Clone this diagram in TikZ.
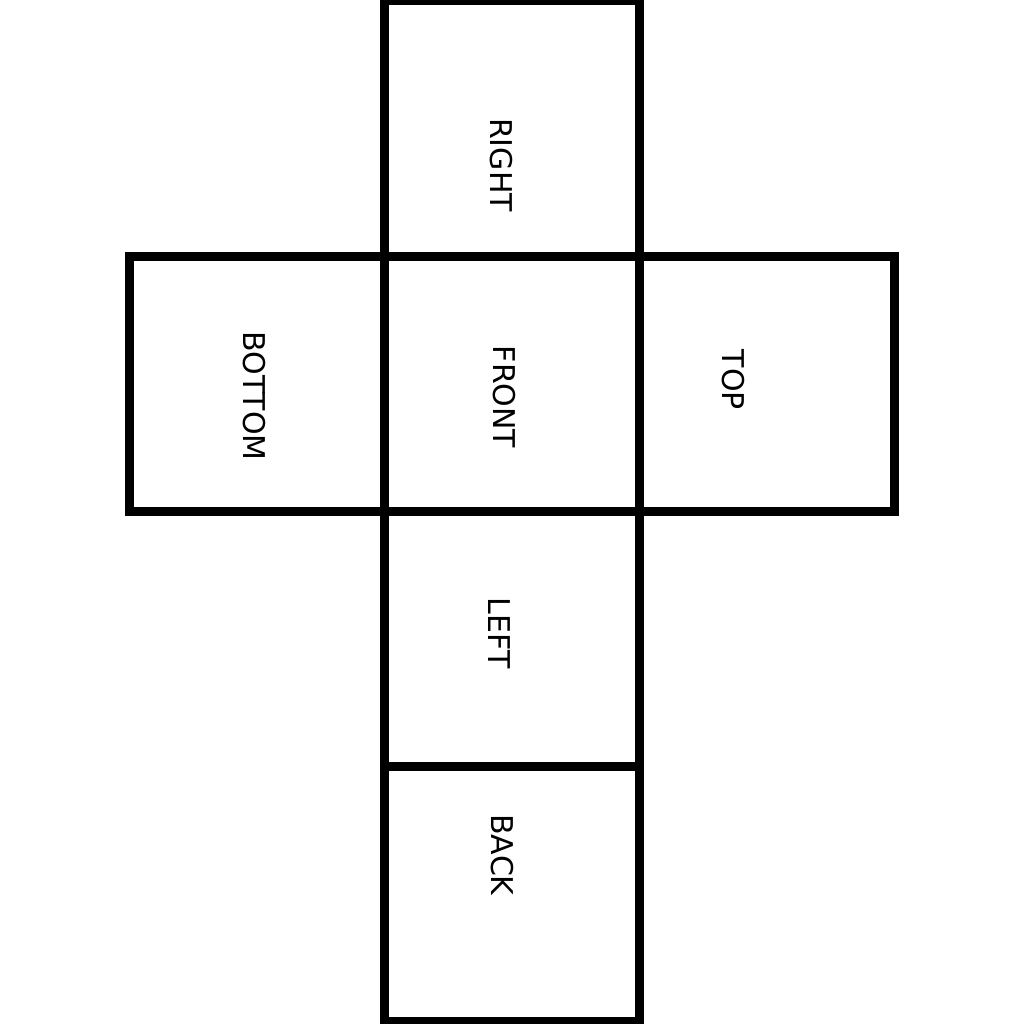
\documentclass[tikz,border=0pt]{standalone}
\usepackage{fontspec}
\setmainfont{DejaVu Sans}
\usepackage{tikz}
\usetikzlibrary{positioning}

\begin{document}
\begin{tikzpicture}[x=1pt,y=-1pt,face/.style={draw,line width=9pt,minimum size=255pt,inner sep=0pt,outer sep=0pt},facelabel/.style={rotate=-90,inner sep=0pt,font=\fontsize{30}{36}\selectfont}]
            \useasboundingbox (0,0) rectangle (1024,1024);
            \node[face] (front) at (511.5,383.5) {};
            \node[face,above=0pt of front] (right) {};
            \node[face,below=0pt of front] (left) {};
            \node[face,below=0pt of left] (back) {};
            \node[face,left=0pt of front] (bottom) {};
            \node[face,right=0pt of front] (top) {};
            \node[facelabel] (tright) at (501,165) {RIGHT};
            \node[facelabel] (tfront) at (504,397) {FRONT};
            \node[facelabel] (ttop) at (733,380) {TOP};
            \node[facelabel] (tbottom) at (254,396) {BOTTOM};
            \node[facelabel] (tleft) at (499,633) {LEFT};
            \node[facelabel] (tback) at (502,855) {BACK};
        \end{tikzpicture}
\end{document}
